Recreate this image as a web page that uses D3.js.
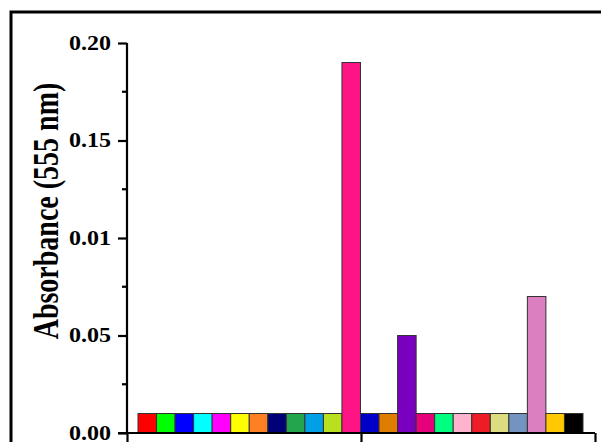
<!DOCTYPE html>
<html>
<head>
<meta charset="utf-8">
<script src="https://cdn.jsdelivr.net/npm/d3@7"></script>
<style>
  html, body { margin: 0; padding: 0; background: #fff; }
  svg { display: block; }
  text { font-family: "Liberation Serif", "Times New Roman", serif; font-weight: bold; fill: #000; }
</style>
</head>
<body>
<svg id="chart" width="601" height="442"></svg>
<script>
// Samples (one bar each) and their absorbance at 555 nm
const samples = d3.range(1, 25).map(i => "S" + i);
const absorbance = [
  0.01, 0.01, 0.01, 0.01, 0.01, 0.01, 0.01, 0.01, 0.01, 0.01, 0.01, 0.19,
  0.01, 0.01, 0.05, 0.01, 0.01, 0.01, 0.01, 0.01, 0.01, 0.07, 0.01, 0.01
];
const barColors = [
  "#ff0000", "#00ff00", "#0000ff", "#00ffff", "#ff00ff", "#ffff00", "#ff8024", "#000078",
  "#22a64b", "#00a0e6", "#b8e01e", "#ff1486", "#0000c8", "#e07c00", "#7a00c0", "#e6007a",
  "#00ff80", "#ffb3cc", "#ee1c24", "#dcdc80", "#7394c0", "#dc7fc0", "#ffc800", "#000000"
];
const yTicks = [0, 0.05, 0.10, 0.15, 0.20];
const yTickLabels = ["0.00", "0.05", "0.01", "0.15", "0.20"];
const yMinorTicks = [0.025, 0.075, 0.125, 0.175];
const xTicks = [0, 1, 2];

const svg = d3.select("#chart");

// Outer frame (continues past the right and bottom edges)
svg.append("rect")
  .attr("x", 11).attr("y", 12)
  .attr("width", 800).attr("height", 600)
  .attr("fill", "none").attr("stroke", "#000").attr("stroke-width", 3);

const y = d3.scaleLinear().domain([0, 0.20]).range([433, 43]);
const xAxisScale = d3.scaleLinear().domain([0, 2]).range([127, 595]);
const x = d3.scaleBand().domain(samples).range([138, 583]).padding(0);

// Bars
svg.append("g").selectAll("rect")
  .data(samples)
  .join("rect")
  .attr("x", d => x(d))
  .attr("width", x.bandwidth())
  .attr("y", (d, i) => y(absorbance[i]))
  .attr("height", (d, i) => y(0) - y(absorbance[i]))
  .attr("fill", (d, i) => barColors[i])
  .attr("stroke", "#333")
  .attr("stroke-width", 1);

// Y axis with major and minor ticks
const yAxis = d3.axisLeft(y)
  .tickValues(yTicks)
  .tickFormat((d, i) => yTickLabels[i])
  .tickSize(9)
  .tickPadding(6);
const gy = svg.append("g").attr("transform", "translate(127,0)").call(yAxis);
gy.select(".domain").attr("stroke-width", 2.2).attr("d", `M0,${y(0)}V${y(0.2)}`);
gy.selectAll(".tick line").attr("stroke-width", 2.2);
gy.selectAll(".tick text")
  .style("font-size", "20px")
  .attr("transform", "scale(1.2,1)")
  .attr("x", -16 / 1.2);
svg.append("g").attr("transform", "translate(127,0)")
  .selectAll("line")
  .data(yMinorTicks)
  .join("line")
  .attr("x1", -5).attr("x2", 0)
  .attr("y1", d => y(d)).attr("y2", d => y(d))
  .attr("stroke", "#000").attr("stroke-width", 2.2);

// X axis
const xAxis = d3.axisBottom(xAxisScale).tickValues(xTicks).tickFormat("").tickSize(9).tickSizeOuter(0);
const gx = svg.append("g").attr("transform", `translate(0,${y(0)})`).call(xAxis);
gx.select(".domain").attr("stroke-width", 2.2).attr("d", `M118,0H${xAxisScale(2)}`);
gx.selectAll(".tick line").attr("stroke-width", 2.2);

// Y axis title
svg.append("text")
  .attr("transform", "translate(58,211) rotate(-90) scale(1,1.3)")
  .attr("text-anchor", "middle")
  .style("font-size", "28px")
  .text("Absorbance (555 nm)");
</script>
</body>
</html>
